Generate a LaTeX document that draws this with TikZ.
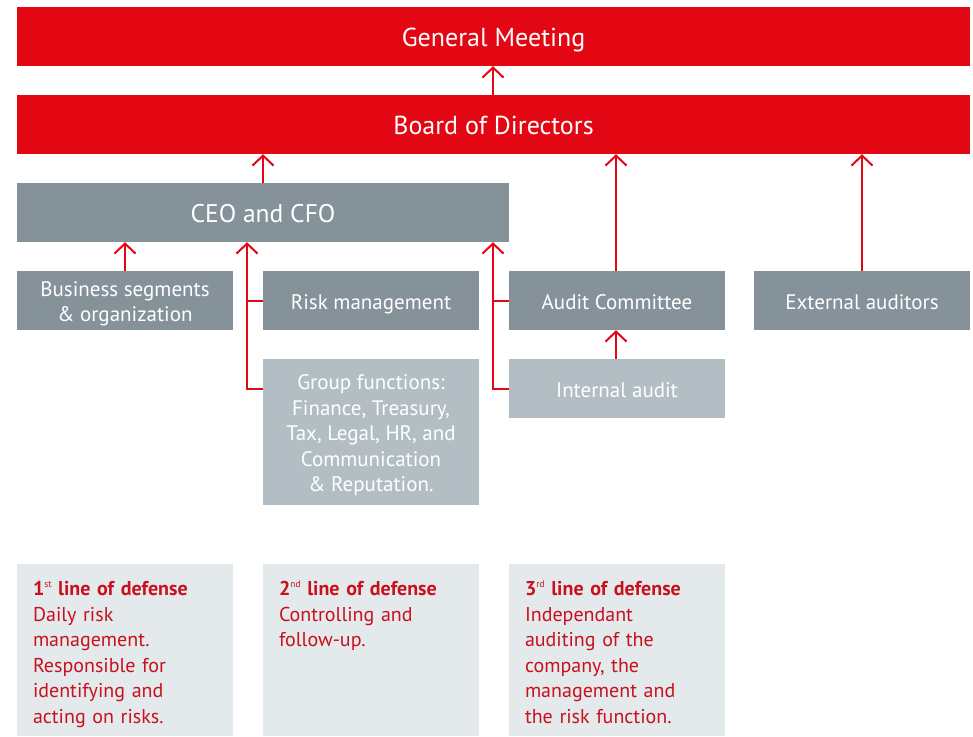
\documentclass[tikz,border=0pt]{standalone}
\usepackage{fontspec}
\setmainfont{PT Sans}
\usetikzlibrary{arrows.meta}
\definecolor{rd}{HTML}{E30613}
\definecolor{gy}{HTML}{85929A}
\definecolor{lgy}{HTML}{B3BEC4}
\definecolor{pale}{HTML}{E4E9EB}
\definecolor{txtred}{HTML}{C8101E}
\newcommand\ordsup[1]{\raisebox{0.42em}{\mdseries\fontsize{9.5}{9.5}\selectfont #1}}
\begin{document}
\begin{tikzpicture}[x=1pt,y=-1pt,
  redbox/.style={fill=rd, text=white, minimum width=953pt, minimum height=59pt, inner sep=0pt, text height=20.2pt, text depth=0pt, font=\fontsize{26}{30}\selectfont},
  greybox/.style={fill=gy, text=white, minimum height=59pt, minimum width=216pt, inner sep=0pt, align=center, font=\fontsize{21}{25.5}\selectfont},
  onebox/.style={greybox, text height=17.3pt, text depth=0pt},
  lightbox/.style={fill=lgy},
  defbox/.style={fill=pale, minimum width=216pt, minimum height=172pt, inner sep=0pt},
  deftext/.style={anchor=base west, text=txtred, align=left, inner sep=0pt, text width=200pt, font=\fontsize{20}{25.5}\selectfont},
  link/.style={draw=rd, line width=2pt},
  arr/.style={link, -{Straight Barb[length=10pt,width=21pt]}}
]
\useasboundingbox (0,0) rectangle (973,736);

\node[redbox] (gm) at (493.5,36.5) {General Meeting};
\node[redbox] (bod) at (493.5,124.5) {Board of Directors};
\node[greybox, minimum width=492pt, text height=19.8pt, text depth=0pt, font=\fontsize{25.5}{30}\selectfont] (ceo) at (263,212.5) {CEO and CFO};
\node[greybox, text height=42.4pt, text depth=0pt] (biz) at (125,300.5) {Business segments\\\& organization};
\node[onebox] (risk) at (371,300.5) {Risk management};
\node[greybox, lightbox, minimum height=146pt, text height=119.4pt, text depth=0pt] (grp) at (371,432) {Group functions:\\Finance, Treasury,\\Tax, Legal, HR, and\\Communication\\\& Reputation.};
\node[onebox] (audit) at (617,300.5) {Audit Committee};
\node[onebox, lightbox] (int) at (617,388.5) {Internal audit};
\node[onebox] (ext) at (862,300.5) {External auditors};

\coordinate (lx) at (247,0);
\coordinate (rx) at (493,0);
\coordinate (ax) at (616,0);

\draw[arr] (bod.north -| rx) -- (gm.south -| rx);
\draw[arr] (ceo.north) -- (ceo.north |- bod.south);
\draw[arr] (audit.north -| ax) -- (bod.south -| ax);
\draw[arr] (ext.north) -- (ext.north |- bod.south);
\draw[arr] (biz.north) -- (biz.north |- ceo.south);
\draw[link] (risk.west) -- (risk.west -| lx);
\draw[arr] ([yshift=-30pt]grp.north west) -| (lx |- ceo.south);
\draw[link] (audit.west) -- (audit.west -| rx);
\draw[arr] (int.west) -| (rx |- ceo.south);
\draw[arr] (int.north -| ax) -- (audit.south -| ax);

\node[defbox] (d1) at (125,650) {};
\node[defbox] (d2) at (371,650) {};
\node[defbox] (d3) at (617,650) {};
\node[deftext] (t1) at ([xshift=16pt,yshift=-31.7pt]d1.north west) {\textbf{1\ordsup{st} line of defense}\\Daily risk\\management.\\Responsible for\\identifying and\\acting on risks.};
\node[deftext] (t2) at ([xshift=16pt,yshift=-31.7pt]d2.north west) {\textbf{2\ordsup{nd} line of defense}\\Controlling and\\follow-up.};
\node[deftext] (t3) at ([xshift=16pt,yshift=-31.7pt]d3.north west) {\textbf{3\ordsup{rd} line of defense}\\Independant\\auditing of the\\company, the\\management and\\the risk function.};
\end{tikzpicture}
\end{document}
